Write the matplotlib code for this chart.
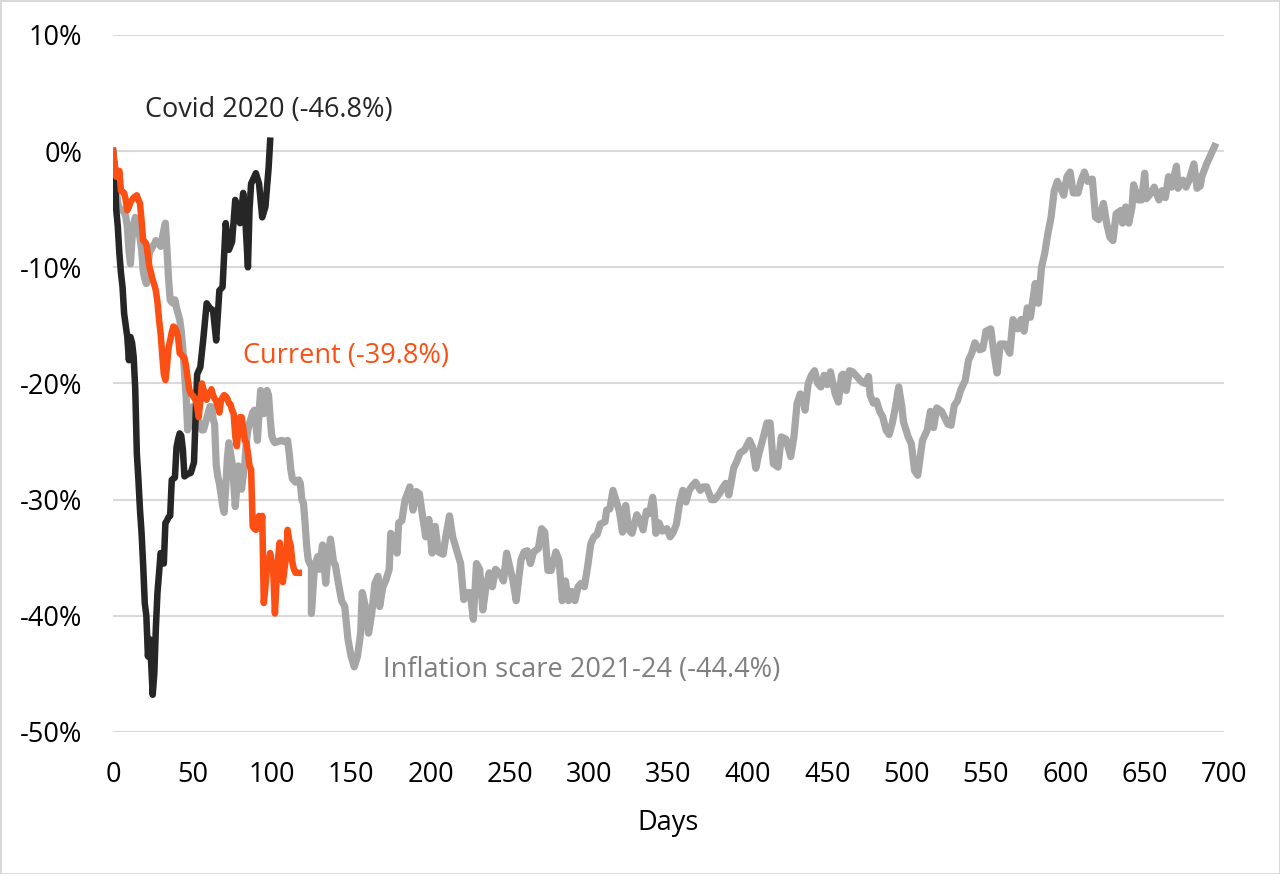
import numpy as np
import matplotlib.pyplot as plt

plt.rcParams['font.family'] = ['Open Sans', 'DejaVu Sans']

# Covid 2020 drawdown (days, % from peak)
covid_days = [0, 1, 2, 3, 4, 5, 6, 7, 8, 9, 10, 11, 12, 13, 14, 15, 16, 17, 18, 19,
              20, 21, 22, 23, 24, 25, 26, 27, 28, 29, 30, 31, 32, 33, 34, 35, 36, 37, 38, 39,
              40, 41, 42, 43, 44, 45, 47, 49, 51, 52, 53, 55, 57, 59, 61, 63, 65, 67, 69, 71,
              73, 75, 77, 79, 80, 82, 83, 85, 86, 87, 90, 92, 94, 96, 98, 99]
covid_vals = [0, -1.5, -5.0, -6.5, -8.8, -10.5, -11.7, -14.0, -15.0, -16.0, -18.0, -16.0, -16.5, -17.7, -20.5, -26.0, -28.3, -30.9, -32.9, -35.7,
              -38.9, -40.0, -43.5, -42.0, -44.0, -46.8, -45.0, -41.0, -38.0, -36.3, -34.6, -35.0, -35.5, -32.0, -31.8, -31.5, -31.4, -28.3, -28.2, -28.1,
              -25.5, -24.8, -24.3, -24.5, -25.7, -28.0, -27.8, -27.7, -26.8, -23.0, -19.2, -18.6, -16.0, -13.1, -13.5, -13.7, -16.3, -12.0, -11.7, -6.2,
              -8.5, -7.8, -4.2, -5.5, -6.2, -3.6, -5.0, -10.0, -5.0, -2.8, -1.9, -2.8, -5.7, -4.8, -1.5, 0.9]

# Current drawdown
cur_days = list(range(0, 118))
cur_vals = [0, -1.0, -2.2, -2.0, -1.7, -3.4, -3.5, -3.6, -4.2, -5.1, -4.8, -4.4, -4.2, -4.0, -3.9, -3.8, -4.2, -4.5, -6.0, -7.7,
            -7.8, -8.0, -9.0, -10.0, -10.5, -11.1, -11.5, -12.0, -13.0, -14.5, -15.7, -17.5, -19.2, -19.7, -18.5, -16.9, -16.3, -15.6, -15.1, -15.2,
            -15.5, -16.0, -17.4, -17.5, -17.7, -17.8, -18.5, -19.5, -20.5, -20.9, -21.0, -21.2, -21.4, -22.0, -22.9, -21.5, -20.0, -20.5, -21.0, -21.4,
            -20.8, -21.0, -20.5, -21.0, -21.3, -21.5, -22.0, -22.5, -21.5, -21.2, -21.0, -21.1, -21.3, -21.7, -21.8, -22.3, -22.6, -24.5, -25.4, -24.0,
            -22.9, -22.9, -23.8, -24.9, -25.1, -26.0, -27.1, -27.4, -32.3, -32.5, -32.6, -32.0, -31.4, -32.5, -31.4, -38.9, -37.5, -36.0, -35.5, -34.6,
            -35.5, -36.3, -39.8, -37.0, -35.0, -33.7, -35.5, -37.1, -36.0, -35.0, -32.6, -33.5, -34.0, -35.4, -36.0, -36.3, -36.3, -36.3]

# Inflation scare 2021-24 drawdown
infl_days = [0, 1, 2, 3, 4, 5, 6, 7, 8, 9, 10, 11, 12, 13, 14, 15, 16, 17, 18, 19,
             20, 21, 22, 23, 24, 25, 26, 27, 28, 29, 30, 31, 32, 33, 34, 35, 36, 37, 38, 39,
             40, 41, 42, 43, 44, 45, 46, 47, 48, 49, 50, 51, 52, 53, 54, 55, 56, 57, 58, 59,
             60, 61, 62, 63, 64, 65, 66, 67, 68, 69, 70, 71, 72, 73, 74, 75, 76, 77, 78, 79,
             80, 81, 82, 83, 84, 85, 86, 87, 88, 89, 90, 91, 92, 93, 94, 95, 96, 97, 98, 99,
             100, 101, 102, 104, 106, 108, 110, 111, 112, 113, 115, 117, 118, 119, 120, 121, 122, 123, 124, 125,
             125, 127, 129, 130, 132, 134, 135, 137, 139, 140, 142, 144, 146, 148, 150, 152, 154, 156, 157, 159,
             161, 163, 165, 167, 168, 170, 172, 174, 175, 177, 179, 180, 182, 184, 186, 187, 189, 191, 193, 195,
             197, 199, 201, 203, 205, 208, 210, 212, 214, 217, 219, 221, 223, 225, 227, 229, 231, 233, 235, 237,
             239, 241, 244, 246, 248, 250, 252, 254, 257, 259, 261, 263, 265, 268, 270, 272, 274, 276, 279, 281,
             283, 285, 287, 289, 291, 293, 295, 297, 299, 301, 303, 305, 307, 310, 311, 313, 315, 317, 319, 321,
             323, 325, 327, 330, 332, 334, 336, 338, 340, 341, 342, 344, 346, 349, 351, 353, 355, 357, 359, 361,
             363, 365, 367, 370, 372, 374, 377, 379, 382, 384, 386, 388, 391, 393, 395, 398, 401, 403, 405, 407,
             409, 412, 414, 416, 419, 421, 424, 427, 429, 431, 433, 435, 436, 438, 440, 442, 444, 446, 448, 450,
             452, 455, 457, 459, 460, 462, 464, 466, 468, 470, 472, 474, 476, 477, 479, 481, 483, 485, 487, 489,
             491, 493, 495, 497, 498, 501, 503, 505, 507, 510, 513, 515, 517, 519, 522, 526, 528, 530, 532, 534,
             537, 539, 541, 543, 546, 548, 550, 553, 555, 557, 559, 562, 565, 567, 570, 572, 574, 576, 578, 581,
             583, 585, 587, 589, 591, 593, 595, 599, 601, 603, 605, 608, 610, 612, 614, 617, 619, 621, 624, 626,
             628, 630, 632, 635, 636, 638, 640, 642, 643, 646, 648, 650, 651, 654, 656, 659, 661, 663, 665, 667,
             670, 671, 674, 676, 678, 681, 683, 685, 686, 689, 691, 694]
infl_vals = [0, -2.5, -3.2, -4.5, -4.9, -5.0, -5.1, -5.3, -5.6, -6.5, -8.5, -9.7, -7.5, -6.3, -5.7, -6.0, -6.5, -7.5, -8.5, -10.3,
             -11.0, -11.4, -10.0, -8.6, -8.5, -8.2, -8.0, -7.7, -7.9, -8.0, -8.2, -7.5, -6.8, -6.2, -8.5, -11.0, -12.8, -13.0, -13.1, -12.8,
             -13.5, -14.0, -14.5, -15.5, -17.0, -19.0, -21.0, -24.0, -23.5, -22.5, -22.0, -22.8, -23.5, -23.0, -23.3, -23.5, -24.0, -24.0, -23.5, -23.0,
             -22.5, -22.0, -22.0, -23.0, -23.5, -27.0, -28.0, -28.6, -29.5, -30.5, -31.1, -29.0, -26.5, -25.1, -26.0, -26.8, -28.5, -30.6, -29.0, -27.1,
             -28.0, -29.1, -28.0, -27.0, -25.0, -24.0, -23.4, -23.0, -22.5, -22.3, -23.5, -24.9, -22.5, -20.6, -21.5, -22.6, -21.5, -20.6, -21.0, -23.0,
             -24.5, -24.9, -25.1, -25.0, -24.9, -25.0, -24.9, -26.0, -27.4, -28.2, -28.5, -28.3, -28.6, -30.0, -30.3, -32.0, -34.0, -35.2, -35.5, -35.7,
             -39.8, -35.7, -34.9, -36.0, -33.9, -37.2, -35.5, -33.4, -35.4, -35.6, -37.2, -38.7, -39.2, -42.0, -43.5, -44.4, -43.5, -41.5, -38.0, -39.2,
             -41.5, -39.8, -37.2, -36.6, -39.2, -37.5, -36.9, -36.0, -32.9, -33.3, -34.6, -32.0, -31.8, -30.0, -29.3, -28.9, -30.9, -29.3, -29.5, -31.4,
             -33.2, -31.7, -34.6, -32.3, -34.5, -34.7, -32.9, -31.4, -33.2, -34.6, -35.5, -38.6, -38.0, -38.0, -40.3, -35.5, -36.0, -39.5, -37.5, -36.3,
             -37.5, -36.0, -36.4, -37.0, -34.6, -35.8, -37.0, -38.7, -35.2, -34.5, -34.4, -35.5, -34.5, -34.2, -32.5, -32.8, -36.1, -36.1, -34.5, -35.2,
             -38.7, -37.0, -38.7, -37.9, -38.7, -37.5, -37.2, -37.5, -35.8, -33.8, -33.2, -33.0, -32.1, -31.9, -30.9, -30.8, -29.2, -30.1, -31.0, -32.8,
             -30.5, -32.6, -32.9, -31.3, -31.8, -32.6, -31.0, -31.2, -29.8, -31.0, -32.9, -32.0, -32.7, -32.5, -33.2, -32.8, -32.1, -30.3, -29.2, -30.2,
             -29.2, -28.8, -28.5, -29.2, -28.9, -28.9, -30.0, -30.0, -29.5, -29.0, -28.6, -29.6, -27.3, -26.7, -26.0, -25.7, -24.9, -25.5, -27.3, -26.0,
             -25.0, -23.4, -23.4, -26.9, -27.2, -24.6, -24.8, -26.3, -24.6, -21.7, -20.9, -21.5, -22.3, -20.0, -19.3, -18.9, -20.0, -20.3, -19.3, -20.1,
             -19.0, -20.9, -21.6, -19.3, -19.2, -20.6, -18.9, -19.0, -19.3, -19.6, -19.9, -20.0, -19.4, -21.0, -21.7, -21.5, -22.4, -22.9, -24.0, -24.4,
             -23.4, -22.0, -20.3, -22.0, -23.3, -24.6, -25.2, -27.5, -27.9, -24.9, -24.0, -22.4, -23.8, -22.1, -22.4, -23.5, -23.6, -21.9, -21.5, -20.6,
             -19.7, -18.0, -17.4, -16.5, -17.1, -17.0, -15.5, -15.3, -17.4, -19.1, -16.6, -16.6, -17.4, -14.5, -15.3, -14.5, -15.5, -13.5, -14.3, -11.4,
             -13.1, -10.0, -8.8, -7.1, -5.7, -3.4, -2.6, -3.8, -2.2, -1.8, -3.6, -3.6, -2.5, -1.8, -2.6, -2.4, -5.7, -5.9, -4.5, -6.2,
             -7.4, -7.7, -5.4, -5.1, -6.2, -4.8, -6.2, -4.8, -2.9, -4.2, -4.2, -1.9, -4.1, -3.6, -3.1, -4.2, -3.4, -4.0, -2.2, -3.1,
             -1.3, -3.2, -2.5, -3.1, -2.5, -1.1, -3.2, -3.0, -2.2, -1.1, -0.5, 0.4]

fig = plt.figure(figsize=(12.8, 8.74), dpi=100)
fig.patch.set_edgecolor('#d9d9d9')
fig.patch.set_linewidth(2)
ax = fig.add_axes([0.0883, 0.1625, 0.868, 0.7975])

ax.plot(infl_days, np.array(infl_vals) / 100, color='#a6a6a6', lw=5.2, solid_joinstyle='round', zorder=2)
ax.plot(covid_days, np.array(covid_vals) / 100, color='#262626', lw=4.7, solid_joinstyle='round', zorder=3)
ax.plot(cur_days, np.array(cur_vals) / 100, color='#fc4f14', lw=4.7, solid_joinstyle='round', zorder=4)

ax.text(20.2, 0.035, 'Covid 2020 (-46.8%)', color='#262626', fontsize=19.5, va='center')
ax.text(81.9, -0.176, 'Current (-39.8%)', color='#fc4f14', fontsize=19.5, va='center')
ax.text(170.1, -0.447, 'Inflation scare 2021-24 (-44.4%)', color='#7f7f7f', fontsize=19.5, va='center')

ax.set_xlim(0, 700)
ax.set_ylim(-0.5, 0.1)
ax.set_xticks(np.arange(0, 701, 50))
ax.set_yticks(np.arange(-0.5, 0.11, 0.1))
ax.set_yticklabels([f'{v:.0f}%' for v in np.arange(-50, 11, 10)])
ax.tick_params(length=0, labelsize=19.5, colors='#000000')
ax.tick_params(axis='y', pad=22)
ax.tick_params(axis='x', pad=21)
ax.grid(axis='y', color='#d9d9d9', lw=1.5)
ax.set_axisbelow(True)
for s in ax.spines.values():
    s.set_visible(False)
ax.set_xlabel('Days', fontsize=19.5, labelpad=14)

fig.savefig('out.png', dpi=100, edgecolor=fig.get_edgecolor())
